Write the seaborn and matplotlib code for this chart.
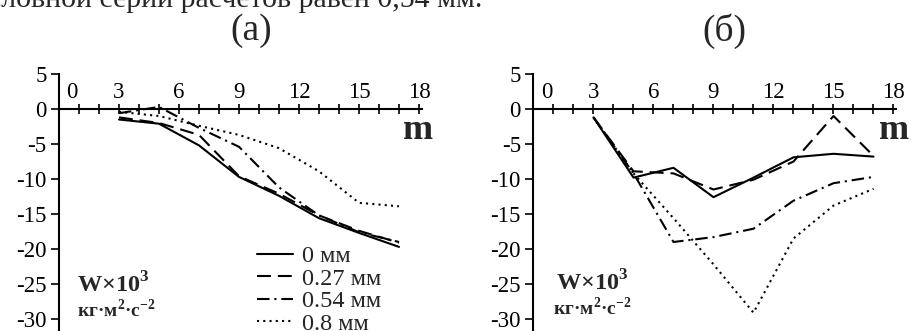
import matplotlib
matplotlib.use("Agg")
import matplotlib.pyplot as plt
import matplotlib.transforms as mtransforms
import seaborn as sns
import pandas as pd

# ---------------- data ----------------
m = [3, 5, 7, 9, 11, 13, 15, 17]
a_0 = [-1.5, -2.1, -5.2, -9.7, -12.4, -15.6, -17.7, -19.7]
a_027 = [-1.2, -2.0, -3.7, -9.6, -12.1, -15.2, -17.4, -19.1]
a_054 = [-0.6, 0.3, -2.7, -5.4, -11.2, -15.2, -17.6, -19.0]
a_08 = [-0.4, -1.0, -2.4, -3.7, -5.6, -8.9, -13.4, -13.9]

b_0 = [-1.2, -9.8, -8.4, -12.6, -9.8, -6.9, -6.4, -6.8]
b_027 = [-1.2, -8.9, -9.2, -11.5, -10.1, -7.5, -1.0, -6.7]
b_054 = [-1.2, -9.2, -19.0, -18.3, -17.1, -13.1, -10.6, -9.7]
b_08 = [-1.2, -9.2, -15.6, -22.2, -29.1, -18.5, -13.8, -11.4]

labels = ["0 мм", "0.27 мм", "0.54 мм", "0.8 мм"]
x_ticks = list(range(0, 19))
x_ticklabels = [str(v) if v % 3 == 0 else "" for v in x_ticks]
y_ticks = [-30, -25, -20, -15, -10, -5, 0, 5]
top_text = "условной серии расчетов равен 0,54 мм."

# ---------------- style ----------------
sns.set_style("ticks")
plt.rcParams["font.family"] = ["Liberation Serif", "DejaVu Serif"]
plt.rcParams["mathtext.fontset"] = "custom"
plt.rcParams["mathtext.rm"] = "Liberation Serif"
plt.rcParams["mathtext.bf"] = "Liberation Serif:bold"
plt.rcParams["lines.scale_dashes"] = False

W, H = 912, 331
fig = plt.figure(figsize=(W / 100, H / 100), dpi=100)

styles = ["-", (0, (10, 5)), (0, (9, 3.5, 1.5, 3.5)), (0, (1.5, 3))]
LW = 1.5
PPU_X = 20.0
PPU_Y = 7.0
ZERO_Y = 109.0


def px(x, y):
    return x / W, 1 - y / H


def make_axes(left_px):
    x0, x1 = 0, 18.15
    y0, y1 = -31.8, 5.0
    w = (x1 - x0) * PPU_X
    h = (y1 - y0) * PPU_Y
    top_px = ZERO_Y - y1 * PPU_Y
    bottom_px = top_px + h
    ax = fig.add_axes([left_px / W, 1 - bottom_px / H, w / W, h / H])
    ax.set_xlim(x0, x1)
    ax.set_ylim(y0, y1)
    ax.set_facecolor("none")
    return ax


def style_axes(ax):
    for s in ["right", "bottom"]:
        ax.spines[s].set_visible(False)
    ax.spines["top"].set_position(("data", 0))
    ax.spines["top"].set_bounds(0, 18.15)
    ax.spines["left"].set_bounds(-31.8, 5)
    for s in ["top", "left"]:
        ax.spines[s].set_linewidth(1.5)
        ax.spines[s].set_color("black")
    ax.xaxis.set_ticks_position("top")
    ax.set_xticks(x_ticks)
    ax.set_xticklabels(x_ticklabels)
    ax.tick_params(axis="x", direction="inout", length=7, width=1.2,
                   labelsize=16.5, pad=1, colors="black")
    ax.set_yticks(y_ticks)
    ax.set_yticklabels([str(v) for v in y_ticks])
    ax.tick_params(axis="y", direction="out", length=6, width=1.2,
                   labelsize=16.5, pad=3, colors="black")
    ax.set_xlabel("")
    ax.set_ylabel("")
    lab0 = ax.get_xticklabels()[0]
    off = mtransforms.ScaledTranslation(13 / 100, 0, fig.dpi_scale_trans)
    lab0.set_transform(lab0.get_transform() + off)


def draw(ax, series):
    for vals, ls, lab in zip(series, styles, labels):
        df = pd.DataFrame({"m": m, "W": vals})
        sns.lineplot(data=df, x="m", y="W", ax=ax, color="black",
                     linestyle=ls, linewidth=LW, label=lab, legend=False)


ax_a = make_axes(59)
draw(ax_a, [a_0, a_027, a_054, a_08])
style_axes(ax_a)

ax_b = make_axes(533.5)
draw(ax_b, [b_0, b_027, b_054, b_08])
style_axes(ax_b)

# legend in panel (a)
handles, labs = ax_a.get_legend_handles_labels()
leg = ax_a.legend(handles, labs, loc="upper left",
                  bbox_to_anchor=px(257, 245), bbox_transform=fig.transFigure,
                  frameon=False, fontsize=17.5, borderpad=0, borderaxespad=0,
                  labelspacing=0.02, handlelength=1.5, handletextpad=0.37)

# texts
fig.text(*px(482, 7), top_text, ha="right", va="baseline", fontsize=21.5)
fig.text(*px(251, 31), "(a)", ha="center", va="center", fontsize=27)
fig.text(*px(724, 31), "(б)", ha="center", va="center", fontsize=27)
fig.text(*px(418, 130), "m", ha="center", va="center", fontsize=26,
         fontweight="bold")
fig.text(*px(894, 130), "m", ha="center", va="center", fontsize=26,
         fontweight="bold")

for (xw, yw, xu, yu) in [(77, 285, 77, 310), (556, 283, 553, 308)]:
    fig.text(*px(xw, yw), r"W×10$^{\mathbf{3}}$", ha="left", va="center",
             fontsize=17.5, fontweight="bold")
    fig.text(*px(xu, yu), r"кг·м$^{\mathbf{2}}$·с$^{\mathbf{-2}}$",
             ha="left", va="center", fontsize=14, fontweight="bold")

fig.savefig("out.png", dpi=100)
